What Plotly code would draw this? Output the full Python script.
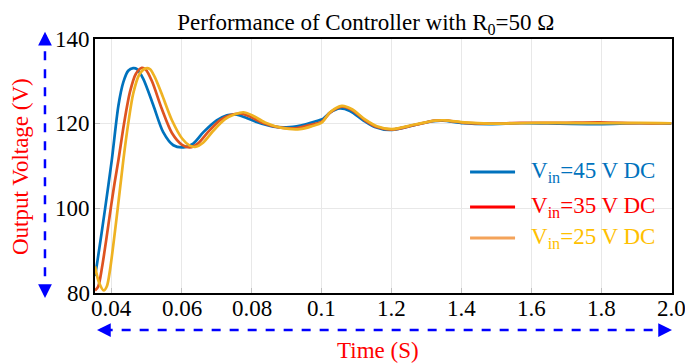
import plotly.graph_objects as go

# Time axis runs on an evenly spaced scale; labels past 0.1 are relabelled in seconds
tick_vals = [0.04, 0.06, 0.08, 0.10, 0.12, 0.14, 0.16, 0.18, 0.20]
tick_text = ["0.04", "0.06", "0.08", "0.1", "1.2", "1.4", "1.6", "1.8", "2.0"]
y_ticks = [80, 100, 120, 140]

# Vin = 45 V DC
t45 = [0.0352, 0.0358, 0.0381, 0.0400, 0.0419, 0.0433, 0.0447, 0.0461, 0.0472, 0.0490,
       0.0519, 0.0547, 0.0576, 0.0605, 0.0633, 0.0662, 0.0700, 0.0729, 0.0757, 0.0784,
       0.0814, 0.0862, 0.0909, 0.0952, 0.0976, 0.1005, 0.1024, 0.1052, 0.1081, 0.1119,
       0.1152, 0.1195, 0.1262, 0.1319, 0.1347, 0.1405, 0.1481, 0.1567, 0.1681, 0.1795,
       0.1909, 0.2000]
v45 = [84.0, 87.0, 100.0, 111.4, 124.3, 129.8, 132.5, 133.1, 132.9, 130.6,
       124.3, 118.0, 114.9, 114.4, 115.3, 118.0, 120.8, 122.0, 122.1, 121.4,
       120.4, 119.3, 119.2, 119.8, 120.4, 121.2, 122.6, 123.6, 123.0, 120.8,
       119.2, 118.5, 119.6, 120.6, 120.7, 120.1, 119.9, 120.1, 120.0, 119.9,
       120.1, 120.0]

# Vin = 35 V DC
t35 = [0.0352, 0.0361, 0.0372, 0.0384, 0.0397, 0.0408, 0.0419, 0.0435, 0.0452, 0.0469,
       0.0486, 0.0497, 0.0515, 0.0543, 0.0572, 0.0601, 0.0623, 0.0646, 0.0675, 0.0709,
       0.0738, 0.0766, 0.0795, 0.0829, 0.0875, 0.0924, 0.0966, 0.1001, 0.1024, 0.1058,
       0.1087, 0.1124, 0.1158, 0.1201, 0.1267, 0.1324, 0.1352, 0.1409, 0.1481, 0.1567,
       0.1681, 0.1795, 0.1909, 0.2000]
v35 = [80.6, 81.5, 86.0, 92.5, 100.0, 106.0, 111.4, 120.0, 127.5, 131.8,
       133.2, 132.8, 130.0, 123.5, 117.8, 115.0, 114.4, 115.3, 118.0, 120.8,
       122.0, 122.4, 121.7, 120.3, 119.2, 118.9, 119.7, 120.5, 122.6, 124.0,
       123.2, 120.8, 119.2, 118.6, 119.7, 120.7, 120.8, 120.2, 120.0, 120.2,
       120.2, 120.3, 120.1, 120.1]

# Vin = 25 V DC
t25 = [0.0352, 0.0363, 0.0377, 0.0386, 0.0395, 0.0417, 0.0433, 0.0447, 0.0461, 0.0478,
       0.0495, 0.0509, 0.0523, 0.0543, 0.0572, 0.0601, 0.0623, 0.0638, 0.0661, 0.0689,
       0.0723, 0.0752, 0.0776, 0.0801, 0.0838, 0.0886, 0.0938, 0.0972, 0.1001, 0.1024,
       0.1058, 0.1087, 0.1124, 0.1158, 0.1201, 0.1267, 0.1324, 0.1352, 0.1409, 0.1481,
       0.1567, 0.1681, 0.1795, 0.1909, 0.2000]
v25 = [86.3, 82.6, 80.6, 81.6, 85.5, 100.0, 111.4, 120.0, 127.0, 131.5,
       133.0, 132.9, 131.0, 127.0, 120.8, 116.5, 114.8, 114.5, 115.5, 118.2,
       121.0, 122.2, 122.7, 122.0, 120.3, 119.0, 118.7, 119.4, 120.3, 122.7,
       124.2, 123.4, 121.0, 119.4, 118.7, 119.8, 120.7, 120.8, 120.3, 120.0,
       120.1, 120.2, 120.1, 120.2, 120.1]

series = [
    ("Vin=45 V DC", t45, v45, "#0072BD"),
    ("Vin=35 V DC", t35, v35, "#DE5320"),
    ("Vin=25 V DC", t25, v25, "#EFB222"),
]

# Legend entries: label, line colour, text colour
legend_items = [
    ("V<sub>in</sub>=45 V DC", "#0072BD", "#0072BD"),
    ("V<sub>in</sub>=35 V DC", "#FF0000", "#FF0000"),
    ("V<sub>in</sub>=25 V DC", "#F4A35A", "#FFC000"),
]

SERIF = "Liberation Serif, Times New Roman, serif"
ARROW = "#0000FF"
FS = 23

fig = go.Figure()
for name, t, v, color in series:
    fig.add_trace(go.Scatter(
        x=t, y=v, mode="lines", name=name, showlegend=False,
        line=dict(color=color, width=2.7, shape="spline", smoothing=0.8),
    ))

axis_common = dict(
    showgrid=True, gridcolor="#E8E8E8", gridwidth=1,
    ticks="inside", ticklen=5, tickcolor="#C0C0C0",
    showline=True, linecolor="black", linewidth=2, mirror=True,
    zeroline=False, showticklabels=False,
)

fig.update_layout(
    template="none",
    width=685, height=363,
    margin=dict(l=95, r=13, t=39, b=70),
    paper_bgcolor="white", plot_bgcolor="white",
    font=dict(family=SERIF, size=FS, color="black"),
    title=dict(
        text="Performance of Controller with R<sub>0</sub>=50 Ω",
        x=0.534, xanchor="center", y=0.94, yanchor="middle",
        font=dict(family=SERIF, size=FS, color="black"),
    ),
    xaxis=dict(range=[0.0352, 0.2002], tickvals=tick_vals, **axis_common),
    yaxis=dict(range=[80, 140], tickvals=y_ticks, **axis_common),
    showlegend=False,
)

# Tick labels, placed on the axis scales in the serif face
for tv, tt in zip(tick_vals, tick_text):
    fig.add_annotation(text=tt, xref="x", yref="paper", x=tv, y=0, yanchor="top",
                       xanchor="center", yshift=-1, showarrow=False,
                       font=dict(family=SERIF, size=FS, color="black"))
for yv in y_ticks:
    fig.add_annotation(text=str(yv), xref="paper", yref="y", x=0, y=yv, xanchor="right",
                       yanchor="middle", xshift=-3, showarrow=False,
                       font=dict(family=SERIF, size=FS, color="black"))

# Axis titles
fig.add_annotation(text="Time (S)", xref="paper", yref="paper", x=0.49, y=-0.225,
                   showarrow=False, font=dict(family=SERIF, size=FS, color="#FF0000"),
                   yanchor="middle")
fig.add_annotation(text="Output Voltage (V)", xref="paper", yref="paper", x=-0.13, y=0.5,
                   textangle=-90, showarrow=False,
                   font=dict(family=SERIF, size=FS, color="#FF0000"), xanchor="center")

# Dashed double-headed arrows along both axes
yx = -0.0867
fig.add_shape(type="line", xref="paper", yref="paper", x0=yx, x1=yx, y0=-0.005, y1=1.015,
              line=dict(color=ARROW, width=2.5, dash="dash"))
fig.add_annotation(xref="paper", yref="paper", x=yx, y=1.029, ax=0, ay=12, text="",
                   showarrow=True, arrowhead=2, arrowsize=1.1, arrowwidth=2.5, arrowcolor=ARROW)
fig.add_annotation(xref="paper", yref="paper", x=yx, y=-0.020, ax=0, ay=-12, text="",
                   showarrow=True, arrowhead=2, arrowsize=1.1, arrowwidth=2.5, arrowcolor=ARROW)

xy = -0.1457
fig.add_shape(type="line", xref="paper", yref="paper", x0=0.015, x1=0.985, y0=xy, y1=xy,
              line=dict(color=ARROW, width=2.5, dash="dash"))
fig.add_annotation(xref="paper", yref="paper", x=0.0035, y=xy, ax=12, ay=0, text="",
                   showarrow=True, arrowhead=2, arrowsize=1.1, arrowwidth=2.5, arrowcolor=ARROW)
fig.add_annotation(xref="paper", yref="paper", x=1.0, y=xy, ax=-12, ay=0, text="",
                   showarrow=True, arrowhead=2, arrowsize=1.1, arrowwidth=2.5, arrowcolor=ARROW)

# Legend block
legend_y = [0.476, 0.339, 0.217]
for (label, lcolor, tcolor), ly in zip(legend_items, legend_y):
    fig.add_shape(type="line", xref="paper", yref="paper", x0=0.650, x1=0.728, y0=ly, y1=ly,
                  line=dict(color=lcolor, width=3))
    fig.add_annotation(text=label, xref="paper", yref="paper", x=0.752, y=ly,
                       xanchor="left", yanchor="middle", showarrow=False,
                       font=dict(family=SERIF, size=FS, color=tcolor))

fig.write_html("out.html")
